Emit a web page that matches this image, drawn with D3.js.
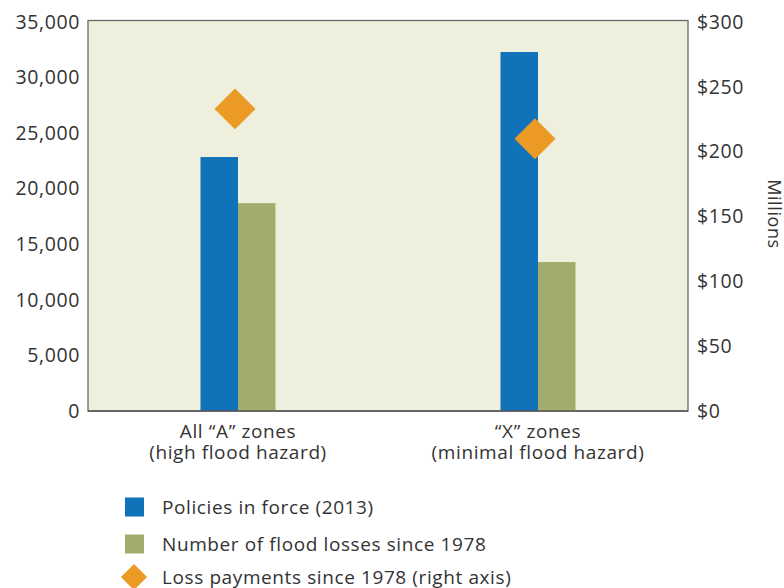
<!DOCTYPE html>
<html><head><meta charset="utf-8">
<script src="https://cdn.jsdelivr.net/npm/d3@7"></script>
<style>
body{margin:0;background:#fff;}
text{font-family:"Open Sans","Noto Sans",sans-serif;fill:#333;}
</style></head>
<body>
<svg id="c" width="784" height="588"></svg>
<script>
const categories = ["A", "X"];
const categoryLines = [["All \u201CA\u201D zones", "(high flood hazard)"], ["\u201CX\u201D zones", "(minimal flood hazard)"]];
const policies = [22850, 32300];
const losses = [18700, 13400];
const payments = [233, 210];
const leftTicks = [0, 5000, 10000, 15000, 20000, 25000, 30000, 35000];
const rightTicks = [0, 50, 100, 150, 200, 250, 300];
const seriesNames = ["Policies in force (2013)", "Number of flood losses since 1978", "Loss payments since 1978 (right axis)"];
const colors = ["#1072b9", "#a3ac6d", "#eb9a26"];

const svg = d3.select("#c");
const L = 88, R = 688, T = 22, B = 411;
const x = d3.scaleBand().domain(categories).range([L, R]);
const inner = d3.scaleBand().domain(["p", "l"]).range([-37.5, 37.5]);
const yL = d3.scaleLinear().domain([0, 35000]).range([B, T]);
const yR = d3.scaleLinear().domain([0, 300]).range([B, T]);

svg.append("rect").attr("x", L).attr("y", T - 1.5).attr("width", R - L).attr("height", B - T + 1.5)
  .attr("fill", "#eef0dd").attr("stroke", "#6a6a6a").attr("stroke-width", 1.3);

const g = svg.append("g");
categories.forEach((c, i) => {
  g.append("rect").attr("x", x(c) + x.bandwidth() / 2 + inner("p")).attr("width", inner.bandwidth())
    .attr("y", yL(policies[i])).attr("height", yL(0) - yL(policies[i])).attr("fill", colors[0]);
  g.append("rect").attr("x", x(c) + x.bandwidth() / 2 + inner("l")).attr("width", inner.bandwidth())
    .attr("y", yL(losses[i])).attr("height", yL(0) - yL(losses[i])).attr("fill", colors[1]);
});
const sym = d3.symbol().type(d3.symbolSquare).size(840);
categories.forEach((c, i) => {
  g.append("path").attr("d", sym())
    .attr("transform", `translate(${x(c) + x.bandwidth() / 2 - 3},${yR(payments[i])}) rotate(45)`)
    .attr("fill", colors[2]);
});
svg.append("line").attr("x1", L).attr("x2", R).attr("y1", B).attr("y2", B).attr("stroke", "#555").attr("stroke-width", 1.5);

const fmt = d3.format(",");
const axL = d3.axisLeft(yL).tickValues(leftTicks).tickFormat(fmt).tickSize(0).tickPadding(8);
const gl = svg.append("g").attr("transform", `translate(${L},0)`).call(axL);
gl.select(".domain").remove();
gl.selectAll("text").attr("font-size", 19.5).attr("letter-spacing", 0.6).style("font-family", null).attr("fill", "#333");

const axR = d3.axisRight(yR).tickValues(rightTicks).tickFormat(d => "$" + d).tickSize(0).tickPadding(9);
const gr = svg.append("g").attr("transform", `translate(${R},0)`).call(axR);
gr.select(".domain").remove();
gr.selectAll("text").attr("font-size", 19.5).attr("letter-spacing", 0.6).style("font-family", null).attr("fill", "#333");

svg.append("text").attr("transform", "translate(768,214) rotate(90)").attr("text-anchor", "middle")
  .attr("font-size", 18).attr("letter-spacing", 0.6).text("Millions");

categories.forEach((c, i) => {
  categoryLines[i].forEach((t, j) => {
    svg.append("text").attr("x", x(c) + x.bandwidth() / 2).attr("y", 438 + j * 20.5)
      .attr("text-anchor", "middle").attr("font-size", 19).attr("letter-spacing", 0.6).text(t);
  });
});

const lg = svg.append("g");
[507, 544, 577].forEach((yy, i) => {
  if (i < 2) {
    lg.append("rect").attr("x", 125).attr("y", yy - 9.5).attr("width", 19).attr("height", 19).attr("fill", colors[i]);
  } else {
    lg.append("path").attr("d", d3.symbol().type(d3.symbolSquare).size(340)())
      .attr("transform", `translate(134,${yy}) rotate(45)`).attr("fill", colors[2]);
  }
  lg.append("text").attr("x", 162).attr("y", yy).attr("dy", "0.35em").attr("font-size", 19).attr("letter-spacing", 0.6).text(seriesNames[i]);
});
</script>
</body></html>
